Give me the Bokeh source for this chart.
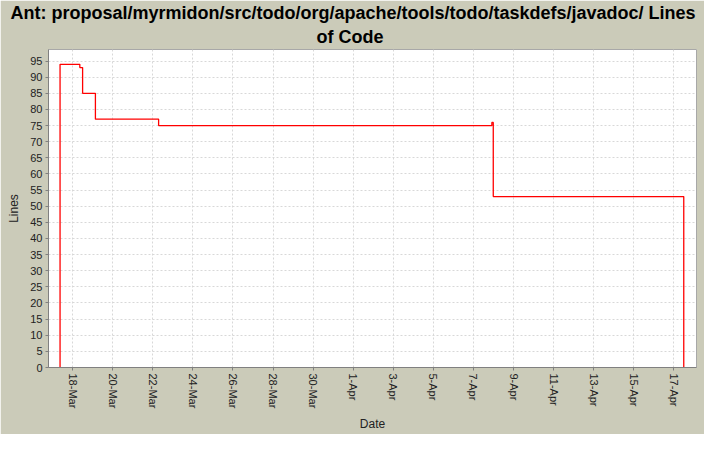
import pandas as pd
from bokeh.plotting import figure
from bokeh.models import FixedTicker, Range1d, Title
from bokeh.embed import file_html
from bokeh.resources import INLINE

YEAR = 2005

# --- data -------------------------------------------------------------
change_times = [
    "2005-03-17 09:00", "2005-03-17 09:00", "2005-03-18 08:40",
    "2005-03-18 12:00", "2005-03-19 03:20", "2005-03-22 07:00",
    "2005-04-07 22:00", "2005-04-07 23:40", "2005-04-17 11:45",
    "2005-04-17 11:45",
]
lines_of_code = [0, 94, 93, 85, 77, 75, 76, 53, 53, 0]

tick_labels = ["18-Mar", "20-Mar", "22-Mar", "24-Mar", "26-Mar", "28-Mar",
               "30-Mar", "1-Apr", "3-Apr", "5-Apr", "7-Apr", "9-Apr",
               "11-Apr", "13-Apr", "15-Apr", "17-Apr"]
y_ticks = list(range(0, 100, 5))

title_line1 = "Ant: proposal/myrmidon/src/todo/org/apache/tools/todo/taskdefs/javadoc/ Lines"
title_line2 = "of Code"

x_start = "2005-03-16 19:10"
x_end = "2005-04-18 03:00"
y_max = 98.6


def to_ms(s):
    return pd.Timestamp(s).value // 10**6


times = pd.to_datetime(change_times)
tick_ms = [to_ms(pd.to_datetime(f"{t}-{YEAR}", format="%d-%b-%Y")) for t in tick_labels]

BG = "#cbcbb9"
GRID = "#d8d8d8"
AX = "#808080"
TFONT = "Liberation Sans"

p = figure(width=704, height=434, x_axis_type="datetime",
           output_backend="svg", toolbar_location=None,
           x_range=Range1d(to_ms(x_start), to_ms(x_end)),
           y_range=Range1d(0, y_max),
           title=title_line1)

p.step(x=times, y=lines_of_code, mode="after", line_color="#ff0000", line_width=1.3)

p.background_fill_color = "white"
p.border_fill_color = BG
p.outline_line_color = "#a8a8a8"
p.min_border_left = 48
p.min_border_right = 8
p.min_border_bottom = 56
p.min_border_top = 0

t = p.title
t.align = "left"
t.text_font = TFONT
t.text_font_size = "18px"
t.text_font_style = "bold"
t.text_color = "black"
t.standoff = 0
t.offset = -38

sub = Title(text=title_line2, align="left", text_font=TFONT,
            text_font_size="18px", text_font_style="bold", text_color="black",
            standoff=5, offset=268)
p.add_layout(sub, "above")

xa = p.xaxis[0]
xa.ticker = FixedTicker(ticks=tick_ms)
xa.major_label_overrides = {float(m): lab for m, lab in zip(tick_ms, tick_labels)}
xa.major_label_orientation = "vertical"
xa.axis_label = "Date"

ya = p.yaxis[0]
ya.ticker = FixedTicker(ticks=y_ticks)
ya.axis_label = "Lines"

for ax in (xa, ya):
    ax.axis_line_color = AX
    ax.major_tick_line_color = AX
    ax.minor_tick_line_color = None
    ax.major_tick_in = 0
    ax.major_tick_out = 3
    ax.major_label_text_font = "Liberation Sans"
    ax.major_label_text_font_size = "11px"
    ax.major_label_text_color = "#222222"
    ax.major_label_standoff = 3
    ax.axis_label_text_font = "Liberation Sans"
    ax.axis_label_text_font_size = "12px"
    ax.axis_label_text_font_style = "normal"
    ax.axis_label_text_color = "#222222"
    ax.axis_label_standoff = 6

for g in (p.xgrid[0], p.ygrid[0]):
    g.grid_line_color = GRID
    g.grid_line_dash = "2 2"
    g.grid_line_width = 1

open("out.html", "w").write(file_html(p, INLINE))
